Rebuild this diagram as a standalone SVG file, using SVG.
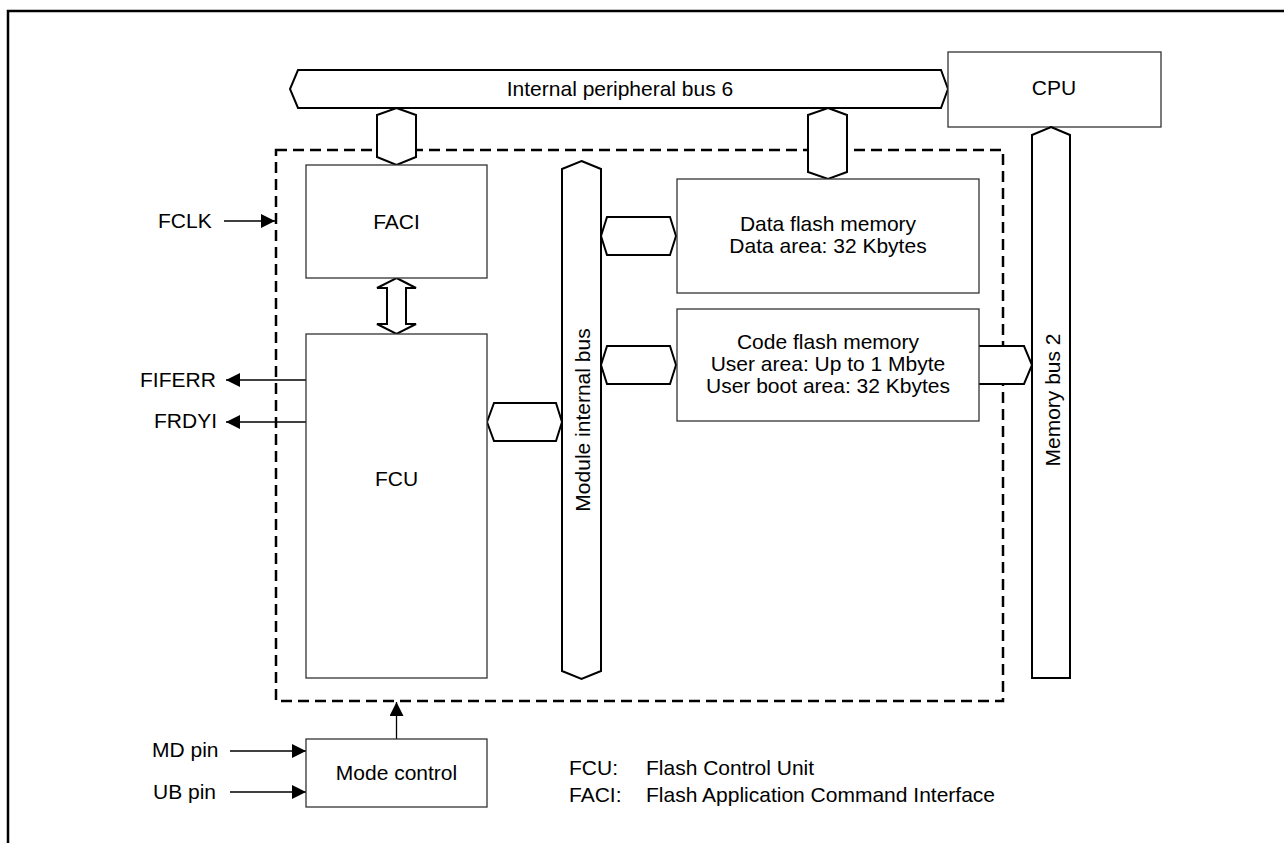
<svg xmlns="http://www.w3.org/2000/svg" width="1284" height="843" viewBox="0 0 1284 843">
<style>
text{font-family:"Liberation Sans",Arial,sans-serif;font-size:21px;fill:#000}
.box{fill:#fff;stroke:#333;stroke-width:1.3}
.bus{fill:#fff;stroke:#000;stroke-width:2}
.wire{fill:none;stroke:#000;stroke-width:1.3}
.mid{text-anchor:middle}
</style>
<defs>
<marker id="ah" markerUnits="userSpaceOnUse" markerWidth="14" markerHeight="14" refX="14" refY="7" orient="auto">
<path d="M0,0 L14,7 L0,14 z" fill="#000"/>
</marker>
</defs>
<path d="M8,843 V11 H1284" fill="none" stroke="#000" stroke-width="2.5"/>
<rect id="module" x="276" y="150" width="727" height="551" fill="none" stroke="#000" stroke-width="2.5" stroke-dasharray="11 6"/>
<g id="connectors">
<polygon class="bus" points="396.5,108 416,115 416,157 396.5,165 377,157 377,115"/>
<polygon class="bus" points="828,108 847,115 847,172 828,179 808,172 808,115"/>
<polygon class="bus" points="601,236 607,217 670,217 676,236 670,255 607,255"/>
<polygon class="bus" points="601,365 607,346 670,346 676,365 670,384 607,384"/>
<polygon class="bus" points="487,422 494,403 556,403 562,422 556,441 494,441"/>
<path class="bus" d="M979,346 H1024 L1032,365 L1024,384 H979"/>
<polygon class="bus" points="396.5,278 416,288 406,288 406,324 416,324 396.5,334 377,324 387,324 387,288 377,288"/>
<line class="wire" x1="224" y1="221" x2="275" y2="221" marker-end="url(#ah)"/>
<line class="wire" x1="306" y1="380" x2="226" y2="380" marker-end="url(#ah)"/>
<line class="wire" x1="306" y1="422" x2="226" y2="422" marker-end="url(#ah)"/>
<line class="wire" x1="230" y1="751" x2="306" y2="751" marker-end="url(#ah)"/>
<line class="wire" x1="230" y1="792" x2="306" y2="792" marker-end="url(#ah)"/>
<line class="wire" x1="396.5" y1="739" x2="396.5" y2="702" marker-end="url(#ah)"/>
</g>
<g id="peripheral-bus">
<polygon class="bus" points="298,70 941,70 948,89 941,108 298,108 290,89"/>
<text class="mid" x="620" y="95.5">Internal peripheral bus 6</text>
</g>
<g id="cpu">
<rect class="box" x="948" y="52" width="213" height="75"/>
<text class="mid" x="1054" y="95">CPU</text>
</g>
<g id="memory-bus">
<polygon class="bus" points="1051,127 1070,135 1070,678 1032,678 1032,135"/>
<text class="mid" transform="translate(1059.5,400) rotate(-90)">Memory bus 2</text>
</g>
<g id="module-bus">
<polygon class="bus" points="581.5,161 601,169 601,671 581.5,679 562,671 562,169"/>
<text class="mid" transform="translate(589.5,420) rotate(-90)">Module internal bus</text>
</g>
<g id="faci">
<rect class="box" x="306" y="165" width="181" height="113"/>
<text class="mid" x="396.5" y="228.5">FACI</text>
</g>
<g id="fcu">
<rect class="box" x="306" y="334" width="181" height="344"/>
<text class="mid" x="396.5" y="485.5">FCU</text>
</g>
<g id="data-flash">
<rect class="box" x="677" y="179" width="302" height="114"/>
<text class="mid" x="828" y="231">Data flash memory</text>
<text class="mid" x="828" y="253">Data area: 32 Kbytes</text>
</g>
<g id="code-flash">
<rect class="box" x="677" y="309" width="302" height="112"/>
<text class="mid" x="828" y="349">Code flash memory</text>
<text class="mid" x="828" y="371">User area: Up to 1 Mbyte</text>
<text class="mid" x="828" y="393">User boot area: 32 Kbytes</text>
</g>
<g id="mode-control">
<rect class="box" x="306" y="739" width="181" height="68"/>
<text class="mid" x="396.5" y="780">Mode control</text>
</g>
<g id="signals">
<text x="158" y="228">FCLK</text>
<text x="140" y="387">FIFERR</text>
<text x="154" y="428">FRDYI</text>
<text x="152" y="757">MD pin</text>
<text x="153" y="799">UB pin</text>
</g>
<g id="legend">
<text x="569" y="775">FCU:</text>
<text x="646" y="775">Flash Control Unit</text>
<text x="569" y="802">FACI:</text>
<text x="646" y="802">Flash Application Command Interface</text>
</g>
</svg>
